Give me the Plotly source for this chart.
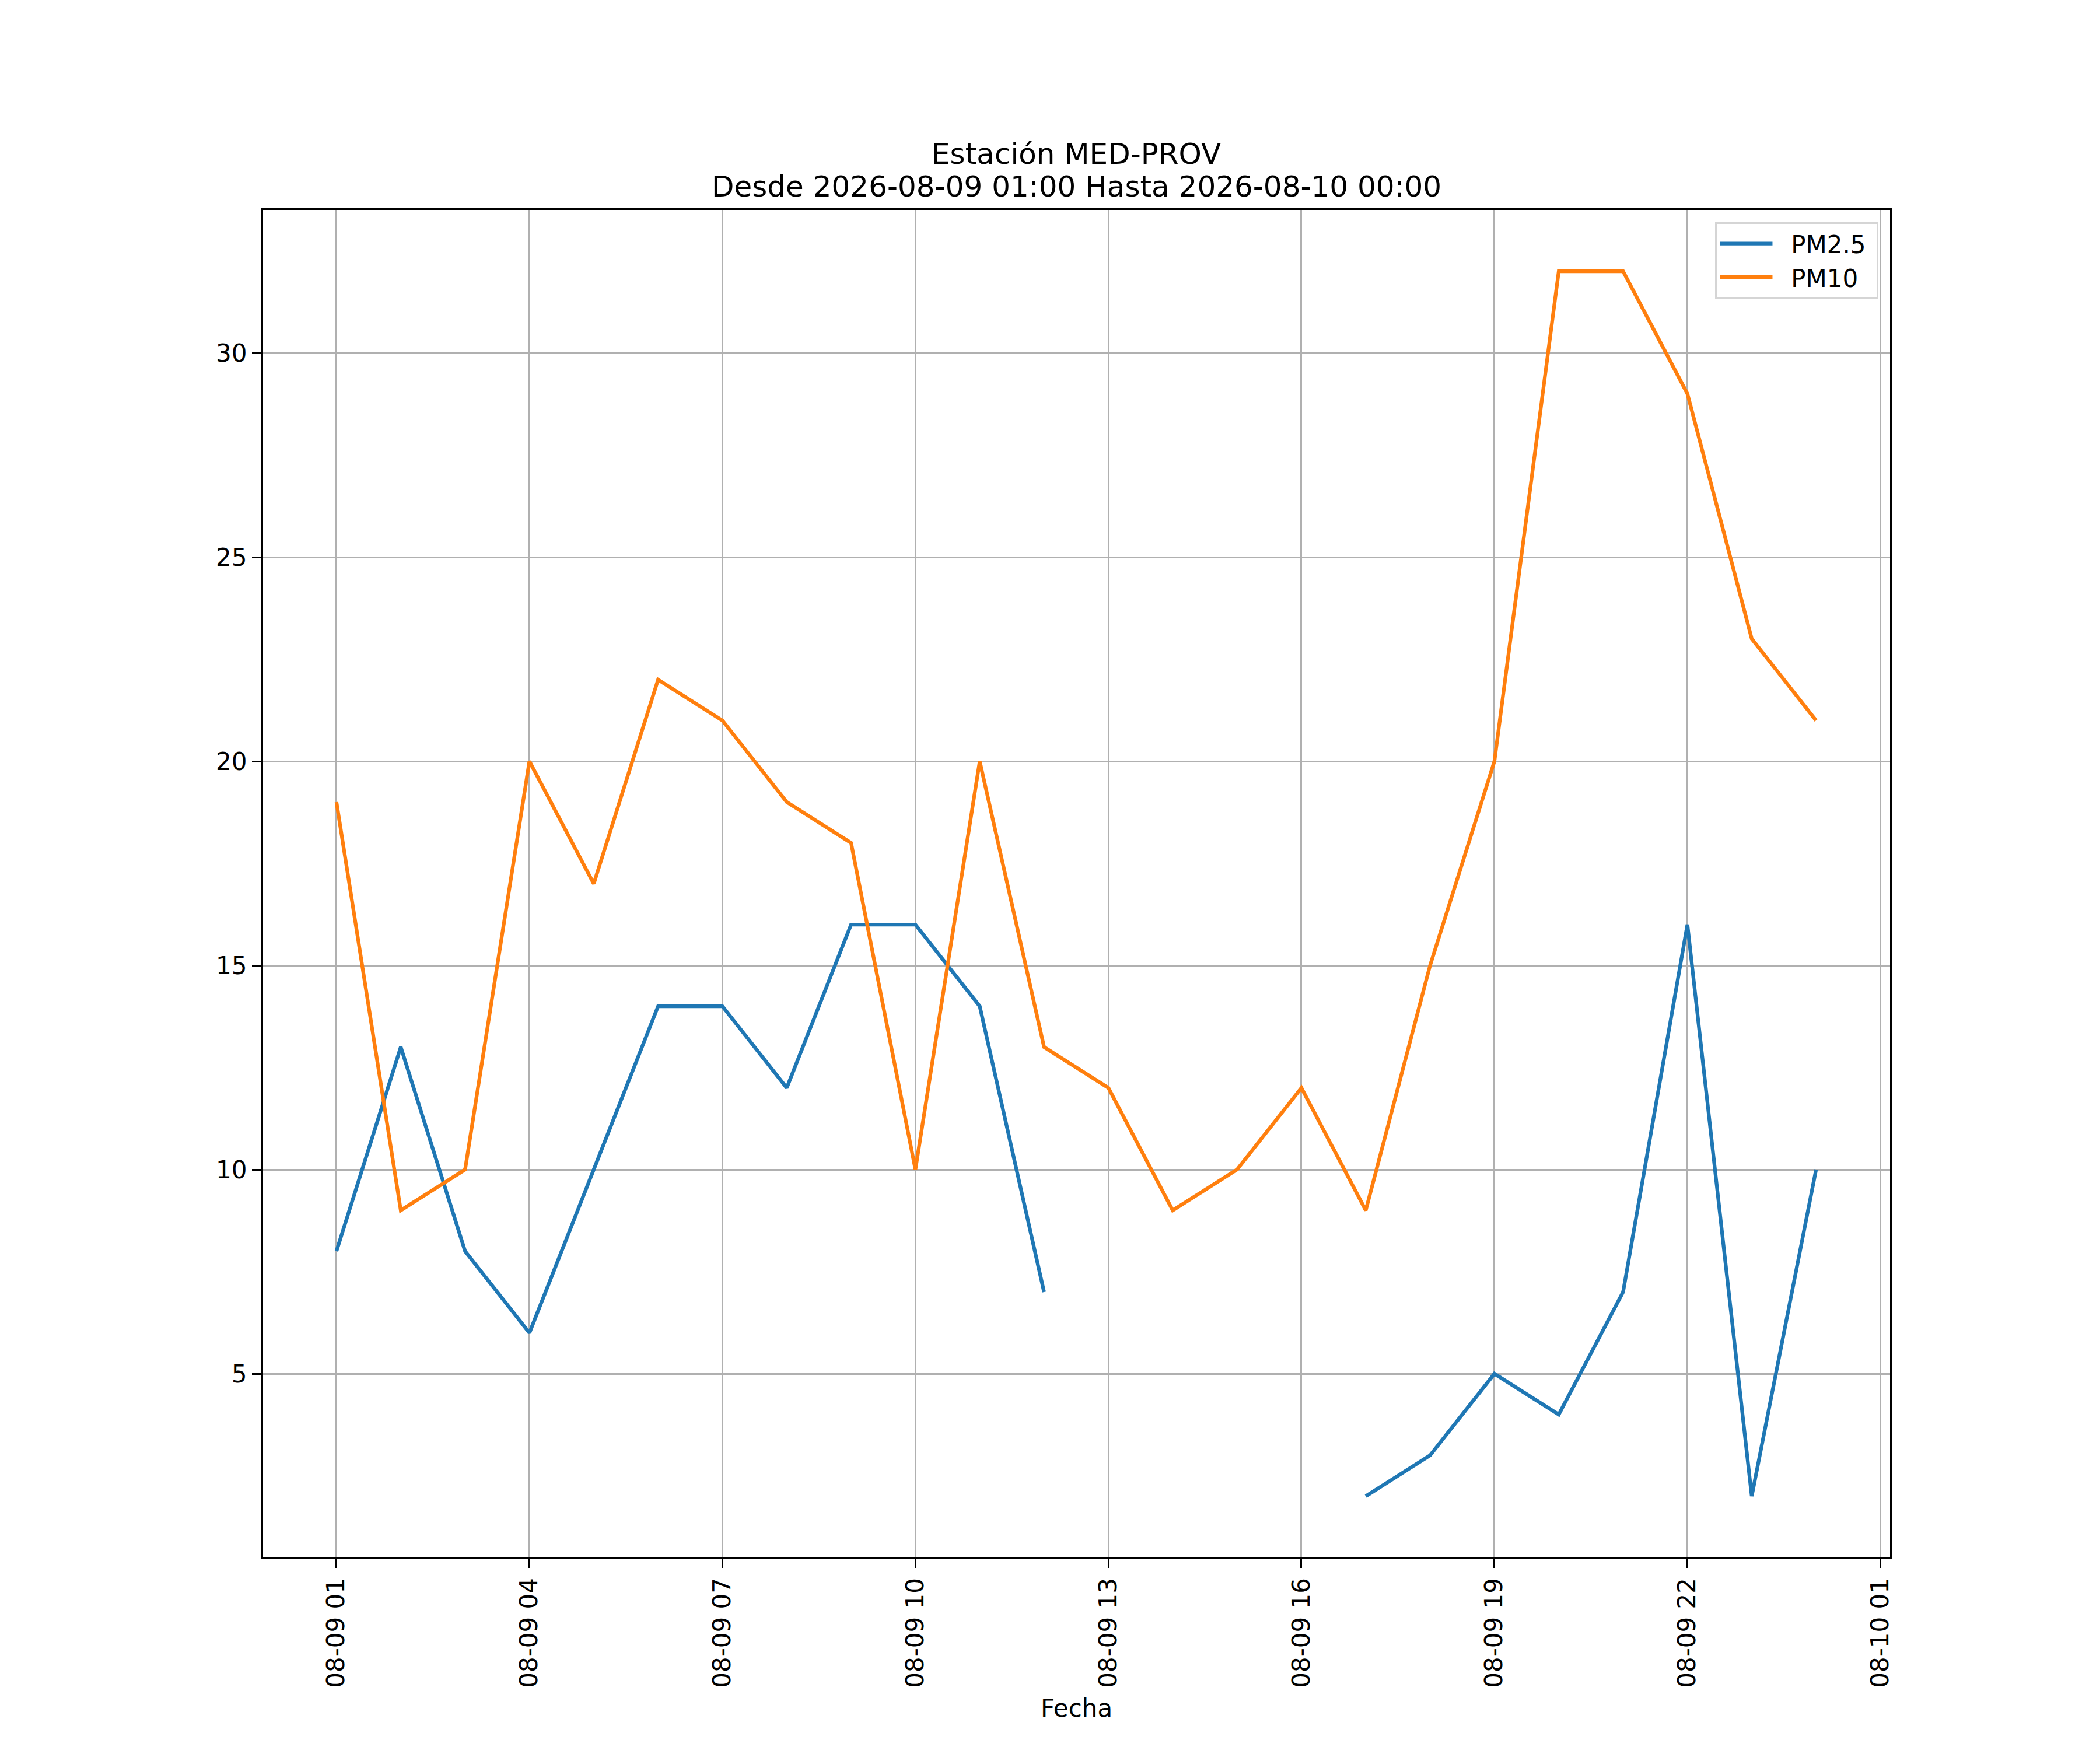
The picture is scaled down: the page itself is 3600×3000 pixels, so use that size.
"""Plot PM2.5 / PM10 hourly series for one station."""

import plotly.graph_objects as go

# hourly timestamps, 2026-08-09 01:00 .. 2026-08-10 00:00
fechas = [
    "2026-08-09 01:00", "2026-08-09 02:00", "2026-08-09 03:00", "2026-08-09 04:00",
    "2026-08-09 05:00", "2026-08-09 06:00", "2026-08-09 07:00", "2026-08-09 08:00",
    "2026-08-09 09:00", "2026-08-09 10:00", "2026-08-09 11:00", "2026-08-09 12:00",
    "2026-08-09 13:00", "2026-08-09 14:00", "2026-08-09 15:00", "2026-08-09 16:00",
    "2026-08-09 17:00", "2026-08-09 18:00", "2026-08-09 19:00", "2026-08-09 20:00",
    "2026-08-09 21:00", "2026-08-09 22:00", "2026-08-09 23:00", "2026-08-10 00:00",
]
pm25 = [8, 13, 8, 6, 10, 14, 14, 12, 16, 16, 14, 7,
        None, None, None, None, 2, 3, 5, 4, 7, 16, 2, 10]
pm10 = [19, 9, 10, 20, 17, 22, 21, 19, 18, 10, 20, 13,
        12, 9, 10, 12, 9, 15, 20, 32, 32, 29, 23, 21]

titulo = ["Estación MED-PROV", "Desde 2026-08-09 01:00 Hasta 2026-08-10 00:00"]
xlabel = "Fecha"

FONT = "DejaVu Sans"
LW = 6.25      # 1.5pt at 300 dpi
THIN = 3.3     # 0.8pt at 300 dpi
BODY = 8       # default page margin of the html body
PAD = "\u00a0\u00a0"  # gap between legend line and label, like matplotlib

fig = go.Figure()
fig.add_trace(go.Scatter(x=fechas, y=pm25, mode="lines", name=PAD + "PM2.5\u00a0",
                         line=dict(color="#1f77b4", width=LW), connectgaps=False))
fig.add_trace(go.Scatter(x=fechas, y=pm10, mode="lines", name=PAD + "PM10",
                         line=dict(color="#ff7f0e", width=LW)))

axis_common = dict(
    showline=True, linecolor="black", linewidth=THIN, mirror=True,
    showgrid=True, gridcolor="#b0b0b0", gridwidth=THIN,
    ticks="outside", ticklen=15, tickwidth=THIN, tickcolor="black",
    tickfont=dict(family=FONT, size=42, color="black"),
    zeroline=False,
)

fig.update_xaxes(
    **axis_common,
    type="date",
    range=["2026-08-08 23:51", "2026-08-10 01:09"],
    tick0="2026-08-09 01:00",
    dtick=3 * 3600 * 1000,
    tickformat="%m-%d %H",
    tickangle=-90,
)
fig.update_yaxes(**axis_common, range=[0.5, 33.5], tick0=0, dtick=5)

# title: two lines, placed separately to get matplotlib's tighter spacing
for linea, shift in zip(titulo, [65, 9]):
    fig.add_annotation(
        text=linea, x=0.5, y=1, xref="paper", yref="paper",
        xanchor="center", yanchor="bottom", yshift=shift, showarrow=False,
        font=dict(family=FONT, size=50, color="black"),
    )
fig.add_annotation(
    text=xlabel, x=0.5, y=0, xref="paper", yref="paper",
    xanchor="center", yanchor="top", yshift=-232, showarrow=False,
    font=dict(family=FONT, size=42, color="black"),
)

fig.update_layout(
    width=3600 - BODY, height=3000 - BODY,
    margin=dict(l=450 - BODY, r=360, t=360 - BODY, b=330),
    paper_bgcolor="white", plot_bgcolor="white",
    font=dict(family=FONT, size=42, color="black"),
    legend=dict(
        x=0.993, y=0.991, xanchor="right", yanchor="top",
        bgcolor="rgba(255,255,255,0.8)", bordercolor="#d5d5d5", borderwidth=3,
        itemwidth=90,
        font=dict(family=FONT, size=42, color="black"),
    ),
)

fig.write_html("out.html")
